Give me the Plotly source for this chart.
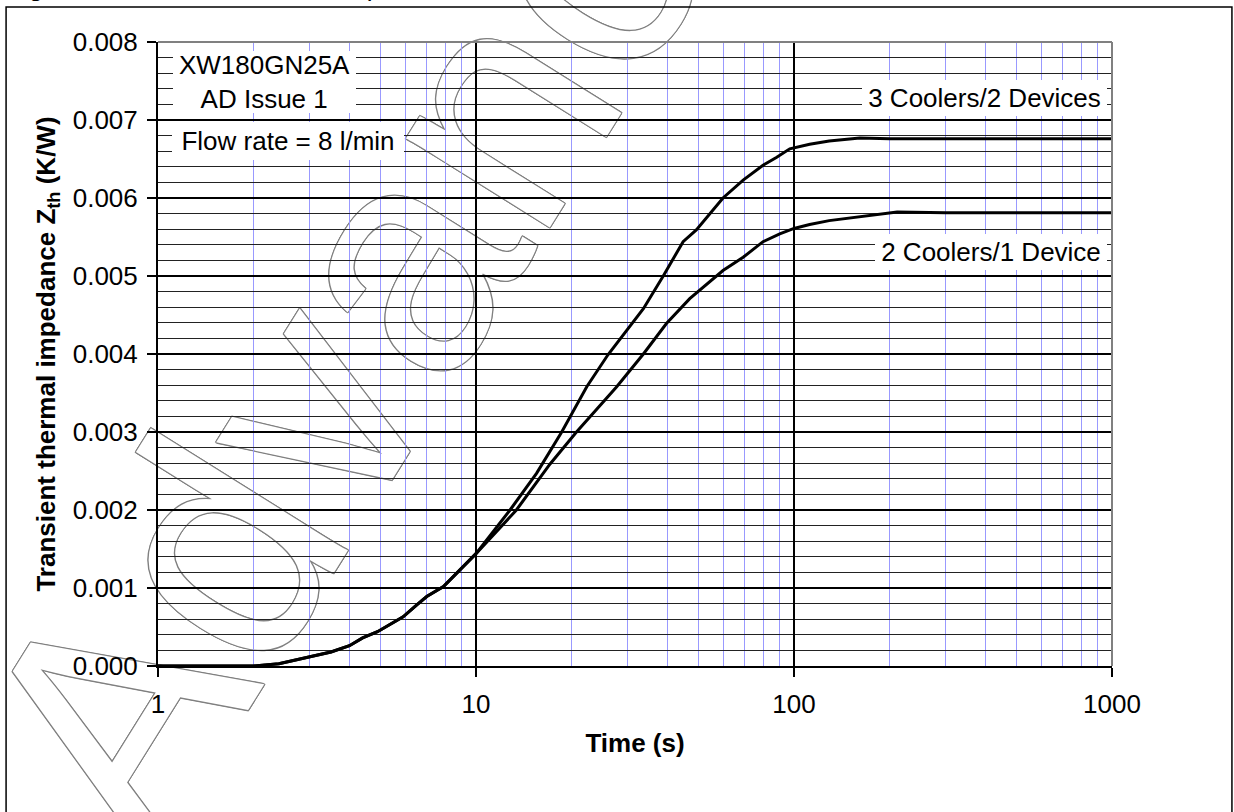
import plotly.graph_objects as go

# ---------------- data ----------------
t_early = [1, 2, 2.4, 3, 3.5, 4, 4.4, 4.9, 5.4, 5.9, 6.5, 7, 7.9, 8.9, 10]
z_early = [0, 0, 0.00003, 0.00012, 0.00018, 0.00026, 0.00036, 0.00044, 0.00054,
           0.00063, 0.00078, 0.00089, 0.00102, 0.00123, 0.00144]

t_3c = [12.8, 15.5, 18.6, 22.3, 26, 29.7, 33.6, 38.8, 44.8, 49.3, 59.8, 69.2,
        79.9, 88, 97, 112, 129, 161, 200, 1000]
z_3c = [0.0020, 0.00247, 0.0030, 0.00358, 0.00399, 0.0043, 0.00458, 0.0050,
        0.00544, 0.00559, 0.0060, 0.00623, 0.00642, 0.00652, 0.00663, 0.00669,
        0.00673, 0.00677, 0.00676, 0.00676]

t_2c = [13.4, 17.1, 20.7, 27.7, 33.6, 39.7, 47, 57, 59.8, 69.2, 79.9, 90.2,
        100, 112, 129, 211, 300, 1000]
z_2c = [0.0020, 0.00259, 0.0030, 0.00358, 0.0040, 0.00439, 0.00471, 0.0050,
        0.00507, 0.00524, 0.00544, 0.00554, 0.00561, 0.00566, 0.00571, 0.00582,
        0.00581, 0.00581]

x_ticks = [1, 10, 100, 1000]
x_tick_labels = ["1", "10", "100", "1000"]
y_ticks = [0, 0.001, 0.002, 0.003, 0.004, 0.005, 0.006, 0.007, 0.008]
y_tick_labels = ["0.000", "0.001", "0.002", "0.003", "0.004", "0.005", "0.006", "0.007", "0.008"]

FONT = "Liberation Sans, Arial, sans-serif"

# plot area in pixels
W, H = 1234, 812
L, R, T, B = 158, 1112.5, 42, 666


def px(xp):
    return (xp - L) / (R - L)


def py(yp):
    return (B - yp) / (B - T)


fig = go.Figure()
fig.add_trace(go.Scatter(x=t_early + t_3c, y=z_early + z_3c, mode="lines",
                         line=dict(color="black", width=3), name="3 Coolers/2 Devices",
                         showlegend=False, hoverinfo="skip"))
fig.add_trace(go.Scatter(x=t_early + t_2c, y=z_early + z_2c, mode="lines",
                         line=dict(color="black", width=3), name="2 Coolers/1 Device",
                         showlegend=False, hoverinfo="skip"))

shapes = []
# watermark (outlined text, under the gridlines)
WX, WY = 362, 262
shapes.append(dict(type="rect", xref="paper", yref="paper",
                   x0=px(WX - 8), x1=px(WX + 8), y0=py(WY + 8), y1=py(WY - 8),
                   line=dict(width=0), fillcolor="rgba(0,0,0,0)", layer="below",
                   label=dict(text="Advance", textangle=-58, textposition="middle center",
                              font=dict(size=320, color="white", family=FONT,
                                        shadow="1px 0 0 #808080, -1px 0 0 #808080, 0 1px 0 #808080, 0 -1px 0 #808080, 1px 1px 0 #808080, -1px -1px 0 #808080, 1px -1px 0 #808080, -1px 1px 0 #808080"))))
# gray top/right plot border
shapes.append(dict(type="line", xref="paper", yref="paper", x0=0, x1=1, y0=1, y1=1,
                   line=dict(color="#808080", width=2)))
shapes.append(dict(type="line", xref="paper", yref="paper", x0=1, x1=1, y0=0, y1=1,
                   line=dict(color="#808080", width=2)))
# outer frame
shapes.append(dict(type="rect", xref="paper", yref="paper",
                   x0=px(6), x1=px(1232.5), y0=py(830), y1=py(7),
                   line=dict(color="black", width=1.5), fillcolor="rgba(0,0,0,0)", layer="above"))

annotations = []


def box(text, cx, cy, w, h):
    annotations.append(dict(text=text, xref="paper", yref="paper", x=px(cx), y=py(cy),
                            xanchor="center", yanchor="middle", showarrow=False,
                            width=w, height=h, bgcolor="white", borderpad=0, borderwidth=0,
                            align="center", valign="middle",
                            font=dict(family=FONT, size=26, color="black")))


box("XW180GN25A<br>AD Issue 1", 264.5, 82, 183, 62)
box("Flow rate = 8 l/min", 288, 141, 232, 38)
box("3 Coolers/2 Devices", 984.5, 98, 245, 36)
box("2 Coolers/1 Device", 991, 252, 232, 36)

# figure caption cut off at the top edge
annotations.append(dict(text="Figure 4 – Transient thermal impedance", xref="paper", yref="paper",
                        x=px(5), y=py(3.5), xanchor="left", yanchor="bottom", showarrow=False,
                        font=dict(family=FONT, size=26, color="black")))

fig.update_layout(
    width=W, height=H,
    margin=dict(l=L, r=W - R, t=T, b=H - B, pad=0),
    paper_bgcolor="white", plot_bgcolor="rgba(0,0,0,0)",
    font=dict(family=FONT, size=26, color="black"),
    shapes=shapes, annotations=annotations,
    hovermode=False,
    xaxis=dict(type="log", range=[0, 3], tickvals=x_ticks, ticktext=x_tick_labels,
               showgrid=True, gridcolor="black", gridwidth=2,
               minor=dict(dtick="D1", showgrid=True, gridcolor="#9999ff", gridwidth=1, ticks=""),
               showline=True, linecolor="black", linewidth=2,
               ticks="outside", ticklen=9, tickwidth=2, tickcolor="black",
               ticklabelstandoff=5, zeroline=False,
               title=dict(text="<b>Time (s)</b>", font=dict(size=26), standoff=16)),
    yaxis=dict(range=[0, 0.008], tickvals=y_ticks, ticktext=y_tick_labels,
               showgrid=True, gridcolor="black", gridwidth=2,
               minor=dict(dtick=0.0002, showgrid=True, gridcolor="#222222", gridwidth=1, ticks=""),
               showline=True, linecolor="black", linewidth=2,
               ticks="outside", ticklen=9, tickwidth=2, tickcolor="black",
               ticklabelstandoff=4, zeroline=False,
               title=dict(text="<b>Transient thermal impedance Z<sub>th</sub> (K/W)</b>",
                          font=dict(size=26), standoff=10)),
)

fig.write_html("out.html", config={"displayModeBar": False},
               post_script="document.body.style.margin='0px';")
